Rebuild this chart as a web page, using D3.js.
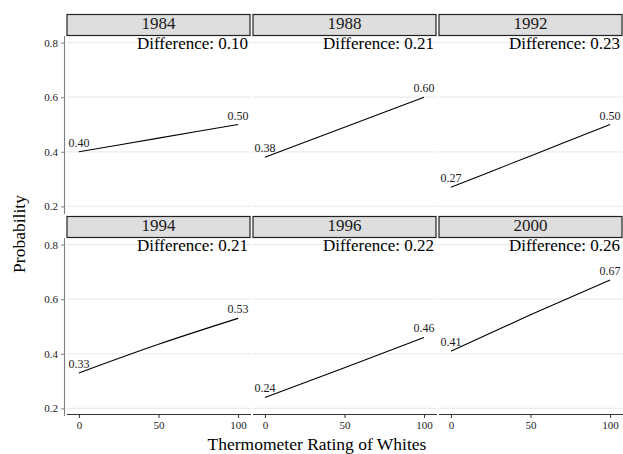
<!DOCTYPE html>
<html>
<head>
<meta charset="utf-8">
<script src="https://cdn.jsdelivr.net/npm/d3@7"></script>
<style>
  body { margin: 0; background: #fff; }
  svg text { font-family: "Liberation Serif", "Times New Roman", serif; }
</style>
</head>
<body>
<div class="chart"></div>
<script>
// data
var years = ["1984", "1988", "1992", "1994", "1996", "2000"];
var ratings = [0, 50, 100];
var lowValues = [0.40, 0.38, 0.27, 0.33, 0.24, 0.41];
var midValues = [0.45, 0.49, 0.385, 0.435, 0.349, 0.543];
var highValues = [0.50, 0.60, 0.50, 0.53, 0.46, 0.67];
var differences = ["0.10", "0.21", "0.23", "0.21", "0.22", "0.26"];
var yTicks = [0.2, 0.4, 0.6, 0.8];
var xTicks = [0, 50, 100];

var width = 623, height = 454;
var panelW = 184, panelH = 178, stripH = 21;
var colX = [66.5, 252.5, 438.5];
var rowTop = [14.5, 216.5];

var svg = d3.select(".chart")
    .append("svg")
    .attr("width", width)
    .attr("height", height);

var x = d3.scaleLinear().domain([-7.8, 107.8]).range([0, panelW]);
var y = d3.scaleLinear().domain([0.174, 0.826]).range([panelH, 0]);

var line = d3.line()
    .curve(d3.curveMonotoneX)
    .x(function(d) { return x(d[0]); })
    .y(function(d) { return y(d[1]); });

years.forEach(function(yr, i) {
    var col = i % 3, row = Math.floor(i / 3);
    var px = colX[col], top = rowTop[row];

    // strip
    svg.append("rect")
        .attr("x", px + 0.5)
        .attr("y", top)
        .attr("width", panelW - 1)
        .attr("height", stripH)
        .attr("fill", "#dedede")
        .attr("stroke", "#222")
        .attr("stroke-width", 1.2);

    svg.append("text")
        .attr("x", px + panelW / 2)
        .attr("y", top + 14)
        .attr("text-anchor", "middle")
        .attr("font-size", 17)
        .attr("fill", "#1a1a1a")
        .text(yr);

    var g = svg.append("g")
        .attr("transform", "translate(" + px + "," + (top + stripH) + ")");

    // grid
    g.selectAll(".grid")
        .data(yTicks)
        .enter().append("line")
        .attr("x1", 0).attr("x2", panelW)
        .attr("y1", function(d) { return y(d); })
        .attr("y2", function(d) { return y(d); })
        .attr("stroke", "#ebebeb")
        .attr("stroke-width", 1.3);

    var pts = ratings.map(function(r, k) {
        return [r, [lowValues[i], midValues[i], highValues[i]][k]];
    });

    g.append("path")
        .datum(pts)
        .attr("d", line)
        .attr("fill", "none")
        .attr("stroke", "#000")
        .attr("stroke-width", 1.1);

    var ends = [pts[0], pts[pts.length - 1]];
    g.selectAll(".lab")
        .data(ends)
        .enter().append("text")
        .attr("x", function(d) { return x(d[0]); })
        .attr("y", function(d) { return y(d[1]) - 5; })
        .attr("text-anchor", "middle")
        .attr("font-size", 12)
        .attr("fill", "#1a1a1a")
        .text(function(d) { return d3.format(".2f")(d[1]); });

    g.append("text")
        .attr("x", panelW - 2.5)
        .attr("y", 13.5)
        .attr("text-anchor", "end")
        .attr("font-size", 17)
        .attr("fill", "#000")
        .text("Difference: " + differences[i]);

    // y axis on the first column
    if (col == 0) {
        var ya = g.append("g")
            .attr("transform", "translate(-2.5,0)")
            .call(d3.axisLeft(y).tickValues(yTicks).tickFormat(d3.format(".1f"))
                .tickSize(3).tickSizeOuter(0).tickPadding(3));
        ya.attr("font-family", null);
        ya.select(".domain").attr("stroke", "#808080").attr("stroke-width", 1.1);
        ya.selectAll(".tick line").attr("stroke", "#808080");
        ya.selectAll("text")
            .attr("font-size", 11)
            .attr("fill", "#222");
    }

    // x axis on the bottom row
    if (row == 1) {
        var xa = g.append("g")
            .attr("transform", "translate(0," + (panelH - 1.5) + ")")
            .call(d3.axisBottom(x).tickValues(xTicks).tickSize(4).tickSizeOuter(0).tickPadding(3));
        xa.attr("font-family", null);
        xa.select(".domain").attr("stroke", "#333").attr("stroke-width", 1.2);
        xa.selectAll(".tick line").attr("stroke", "#333");
        xa.selectAll("text")
            .attr("font-size", 11)
            .attr("fill", "#222");
    }
});

svg.append("text")
    .attr("x", 317)
    .attr("y", 450)
    .attr("text-anchor", "middle")
    .attr("font-size", 17.5)
    .attr("fill", "#000")
    .text("Thermometer Rating of Whites");

svg.append("text")
    .attr("transform", "translate(25,234) rotate(-90)")
    .attr("text-anchor", "middle")
    .attr("font-size", 17.5)
    .attr("fill", "#000")
    .text("Probability");
</script>
</body>
</html>
